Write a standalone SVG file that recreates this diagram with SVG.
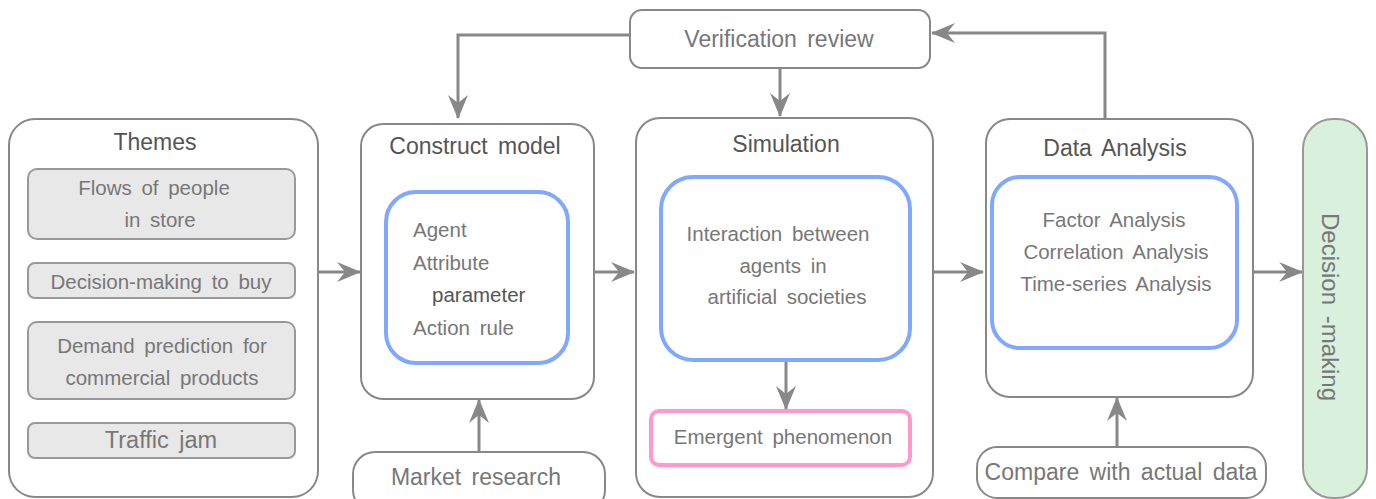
<svg xmlns="http://www.w3.org/2000/svg" width="1376" height="499" viewBox="0 0 1376 499">
<defs>
<style>
.box{fill:#fff;stroke:#888;stroke-width:2}
.sub{fill:#e8e8e8;stroke:#999;stroke-width:2}
.blue{fill:#fff;stroke:#80a8ff;stroke-width:4}
.pink{fill:#fff;stroke:#ff99cc;stroke-width:4}
.green{fill:#d9f0dc;stroke:#999;stroke-width:2}
.t{font-family:"Liberation Sans",Arial,sans-serif;fill:#777;font-size:20.5px;word-spacing:4px}
.h{font-family:"Liberation Sans",Arial,sans-serif;fill:#555;font-size:23px;word-spacing:4px}
.c{text-anchor:middle}
.ln{fill:none;stroke:#888;stroke-width:3}
</style>
<marker id="ah" viewBox="0 0 24 20" refX="23" refY="10" markerWidth="24" markerHeight="20" markerUnits="userSpaceOnUse" orient="auto">
<path d="M0,0 L24,10 L0,20 L8,10 Z" fill="#888"/>
</marker>
</defs>
<g id="themes">
<rect class="box" x="9" y="119" width="309" height="378" rx="26"/>
<text class="h c" x="155" y="150">Themes</text>
<rect class="sub" x="28" y="169" width="267" height="70" rx="9"/>
<text class="t c" x="154" y="195">Flows of people</text>
<text class="t c" x="160" y="227">in store</text>
<rect class="sub" x="28" y="263" width="267" height="35" rx="7"/>
<text class="t c" x="161" y="289">Decision-making  to buy</text>
<rect class="sub" x="28" y="322" width="267" height="77" rx="9"/>
<text class="t c" x="162" y="353">Demand prediction  for</text>
<text class="t c" x="162" y="385">commercial products</text>
<rect class="sub" x="28" y="423" width="267" height="35" rx="7"/>
<text class="t c" x="161" y="448" style="font-size:23.5px">Traffic jam</text>
</g>
<g id="construct">
<rect class="box" x="361" y="124" width="233" height="275" rx="22"/>
<text class="h c" x="475" y="154">Construct model</text>
<rect class="blue" x="386" y="192" width="182" height="171" rx="30"/>
<text class="t" x="413" y="237">Agent</text>
<text class="t" x="413" y="270">Attribute</text>
<text class="t" x="432" y="302" style="fill:#555">parameter</text>
<text class="t" x="413" y="335">Action rule</text>
</g>
<g id="market">
<rect class="box" x="353" y="452" width="252" height="60" rx="22"/>
<text class="h c" x="476" y="485" style="fill:#777">Market research</text>
</g>
<g id="verification">
<rect class="box" x="630" y="10" width="300" height="58" rx="12"/>
<text class="h c" x="779" y="47" style="fill:#777">Verification review</text>
</g>
<g id="simulation">
<rect class="box" x="636" y="118" width="297" height="379" rx="24"/>
<text class="h c" x="786" y="152">Simulation</text>
<rect class="blue" x="661" y="177" width="249" height="183" rx="32"/>
<text class="t c" x="778" y="241">Interaction  between</text>
<text class="t c" x="783" y="273">agents  in</text>
<text class="t c" x="787" y="304">artificial societies</text>
<rect class="pink" x="651" y="411" width="259" height="54" rx="8"/>
<text class="t c" x="783" y="444">Emergent  phenomenon</text>
</g>
<g id="analysis">
<rect class="box" x="986" y="119" width="267" height="278" rx="24"/>
<text class="h c" x="1115" y="156">Data Analysis</text>
<rect class="blue" x="992" y="177" width="245" height="171" rx="28"/>
<text class="t c" x="1114" y="227">Factor Analysis</text>
<text class="t c" x="1116" y="259">Correlation  Analysis</text>
<text class="t c" x="1116" y="291">Time-series  Analysis</text>
</g>
<g id="compare">
<rect class="box" x="977" y="447" width="289" height="51" rx="20"/>
<text class="h c" x="1121" y="480" style="fill:#777">Compare  with actual data</text>
</g>
<g id="decision">
<rect class="green" x="1303" y="119" width="64" height="379" rx="30"/>
<text class="h c" x="0" y="0" style="fill:#777;font-size:24px" transform="translate(1322,307) rotate(90)">Decision -making</text>
</g>
<g id="connectors">
<line class="ln" x1="318" y1="272" x2="360" y2="272" marker-end="url(#ah)"/>
<line class="ln" x1="594" y1="272" x2="634" y2="272" marker-end="url(#ah)"/>
<line class="ln" x1="933" y1="272" x2="983" y2="272" marker-end="url(#ah)"/>
<line class="ln" x1="1253" y1="272" x2="1302" y2="272" marker-end="url(#ah)"/>
<polyline class="ln" points="629,35 458,35 458,118" marker-end="url(#ah)"/>
<line class="ln" x1="780" y1="68" x2="780" y2="116" marker-end="url(#ah)"/>
<polyline class="ln" points="1105,119 1105,33 932,33" marker-end="url(#ah)"/>
<line class="ln" x1="479" y1="452" x2="479" y2="400" marker-end="url(#ah)"/>
<line class="ln" x1="786" y1="362" x2="786" y2="409" marker-end="url(#ah)"/>
<line class="ln" x1="1117" y1="447" x2="1117" y2="398" marker-end="url(#ah)"/>
</g>
</svg>
